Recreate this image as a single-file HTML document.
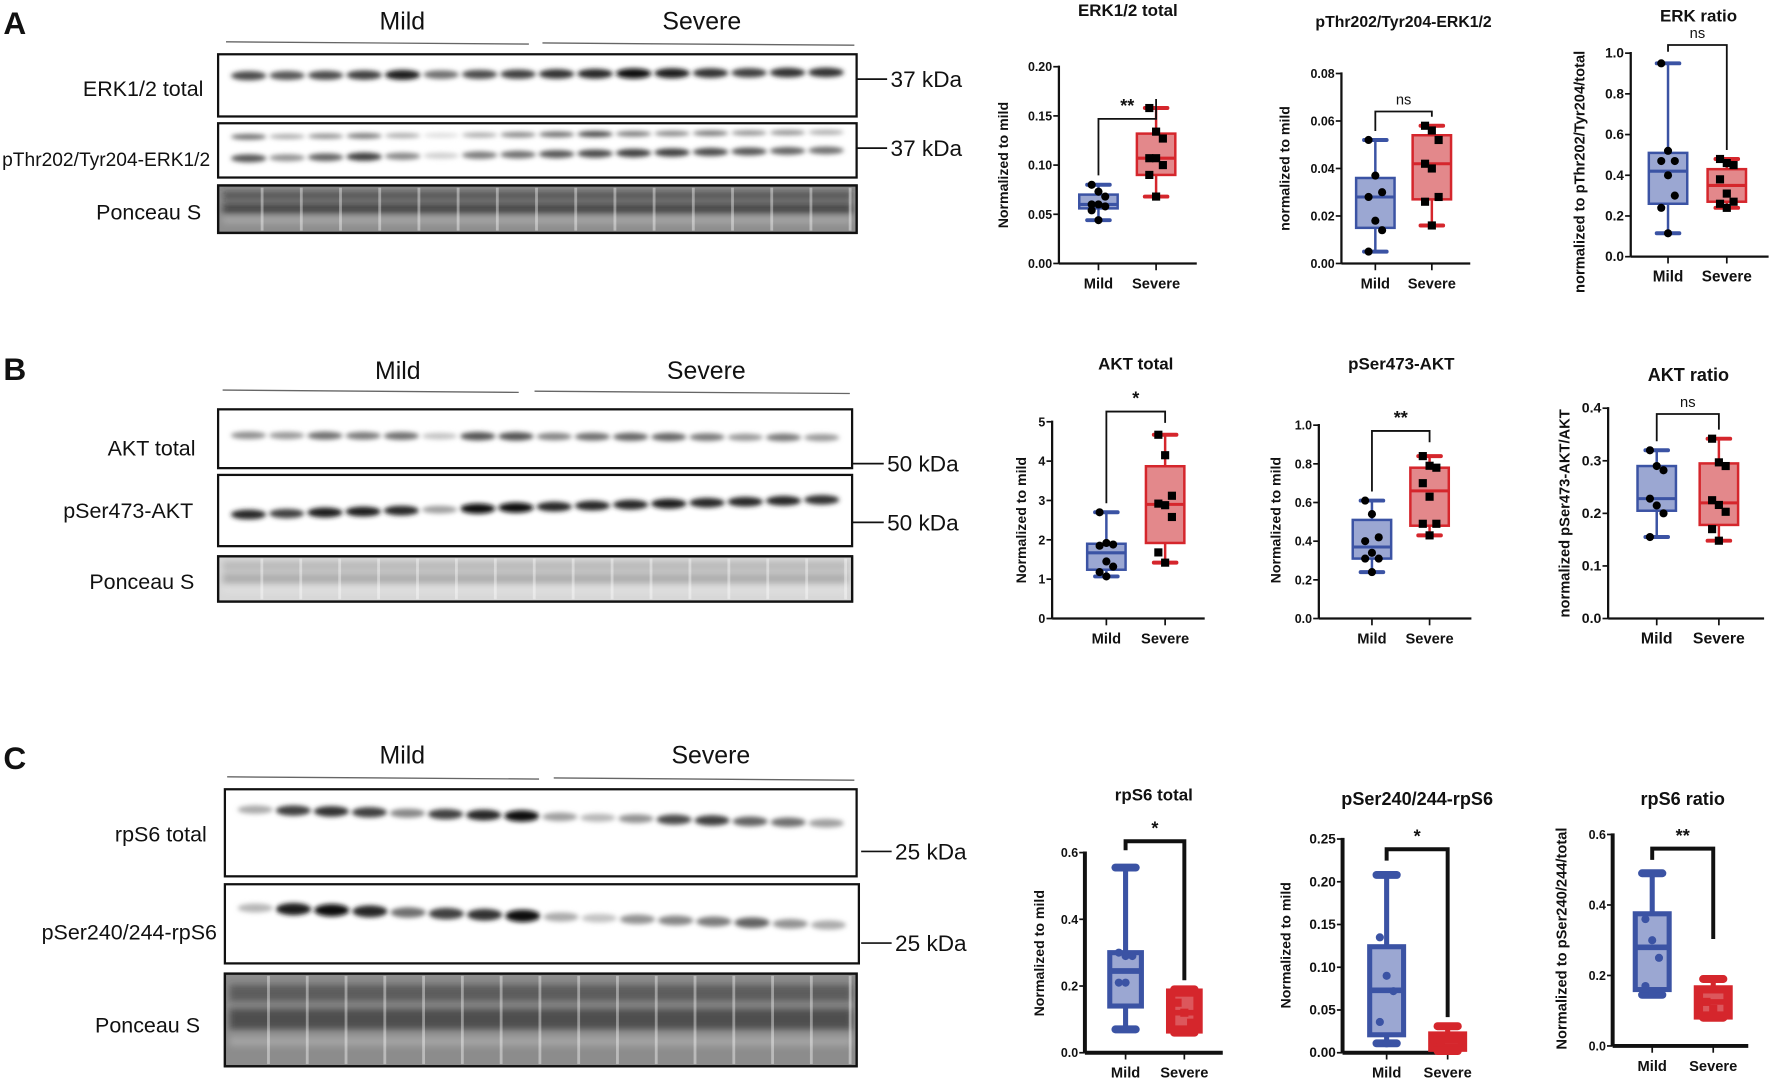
<!DOCTYPE html>
<html><head><meta charset="utf-8"><style>
html,body{margin:0;padding:0;background:#fff}
svg{display:block}
text{font-family:"Liberation Sans",Arial,sans-serif}
</style></head><body>
<svg id="fig" xmlns="http://www.w3.org/2000/svg" width="1772" height="1081" viewBox="0 0 1568 956" preserveAspectRatio="none">
<defs>
<filter id="blur2" x="-50%" y="-100%" width="200%" height="300%"><feGaussianBlur stdDeviation="2.2"/></filter>
<filter id="blur4" x="-10%" y="-100%" width="120%" height="300%"><feGaussianBlur stdDeviation="3"/></filter>
</defs>
<g id="blots"></g>
<g id="charts"></g>
</svg>
<script>
// ---------- Chart data ----------
const categories = ["Mild", "Severe"];
// Each stats array: [whiskerMin, q1, median, q3, whiskerMax]
const erkTotalMildStats = [0.044, 0.056, 0.060, 0.070, 0.080];
const erkTotalSevStats = [0.068, 0.090, 0.107, 0.132, 0.158];
const erkTotalMildPts = [0.080, 0.073, 0.068, 0.060, 0.060, 0.058, 0.054, 0.044];
const erkTotalSevPts = [0.158, 0.134, 0.127, 0.107, 0.107, 0.100, 0.090, 0.068];
const erkTotalTicks = [0, 0.05, 0.10, 0.15, 0.20];
const erkTotalTickLabels = ["0.00", "0.05", "0.10", "0.15", "0.20"];

const pErkMildStats = [0.005, 0.015, 0.028, 0.036, 0.052];
const pErkSevStats = [0.016, 0.027, 0.042, 0.054, 0.058];
const pErkMildPts = [0.052, 0.037, 0.030, 0.028, 0.018, 0.014, 0.005];
const pErkSevPts = [0.058, 0.056, 0.052, 0.042, 0.040, 0.028, 0.026, 0.016];
const pErkTicks = [0, 0.02, 0.04, 0.06, 0.08];
const pErkTickLabels = ["0.00", "0.02", "0.04", "0.06", "0.08"];

const erkRatioMildStats = [0.115, 0.26, 0.42, 0.51, 0.95];
const erkRatioSevStats = [0.24, 0.27, 0.35, 0.43, 0.48];
const erkRatioMildPts = [0.95, 0.52, 0.47, 0.47, 0.40, 0.30, 0.24, 0.115];
const erkRatioSevPts = [0.48, 0.46, 0.45, 0.38, 0.31, 0.27, 0.26, 0.24];
const erkRatioTicks = [0, 0.2, 0.4, 0.6, 0.8, 1.0];
const erkRatioTickLabels = ["0.0", "0.2", "0.4", "0.6", "0.8", "1.0"];

const aktTotalMildStats = [1.07, 1.24, 1.67, 1.90, 2.70];
const aktTotalSevStats = [1.42, 1.92, 2.90, 3.87, 4.67];
const aktTotalMildPts = [2.70, 1.92, 1.88, 1.85, 1.45, 1.32, 1.18, 1.07];
const aktTotalSevPts = [4.67, 4.15, 3.12, 2.92, 2.88, 2.58, 1.68, 1.42];
const aktTotalTicks = [0, 1, 2, 3, 4, 5];
const aktTotalTickLabels = ["0", "1", "2", "3", "4", "5"];

const pAktMildStats = [0.24, 0.31, 0.37, 0.51, 0.61];
const pAktSevStats = [0.43, 0.48, 0.66, 0.78, 0.84];
const pAktMildPts = [0.61, 0.54, 0.42, 0.40, 0.34, 0.31, 0.31, 0.24];
const pAktSevPts = [0.84, 0.79, 0.78, 0.70, 0.63, 0.49, 0.49, 0.43];
const pAktTicks = [0, 0.2, 0.4, 0.6, 0.8, 1.0];
const pAktTickLabels = ["0.0", "0.2", "0.4", "0.6", "0.8", "1.0"];

const aktRatioMildStats = [0.155, 0.205, 0.228, 0.29, 0.32];
const aktRatioSevStats = [0.148, 0.178, 0.22, 0.295, 0.342];
const aktRatioMildPts = [0.32, 0.29, 0.282, 0.228, 0.215, 0.20, 0.155];
const aktRatioSevPts = [0.342, 0.297, 0.29, 0.225, 0.216, 0.203, 0.17, 0.148];
const aktRatioTicks = [0, 0.1, 0.2, 0.3, 0.4];
const aktRatioTickLabels = ["0.0", "0.1", "0.2", "0.3", "0.4"];

const s6TotalMildStats = [0.07, 0.14, 0.245, 0.30, 0.555];
const s6TotalSevStats = [0.06, 0.065, 0.12, 0.185, 0.19];
const s6TotalMildPts = [0.30, 0.29, 0.29, 0.21, 0.21];
const s6TotalSevPts = [0.15, 0.12, 0.09];
const s6TotalTicks = [0, 0.2, 0.4, 0.6];
const s6TotalTickLabels = ["0.0", "0.2", "0.4", "0.6"];

const pS6MildStats = [0.011, 0.021, 0.073, 0.124, 0.208];
const pS6SevStats = [0.002, 0.004, 0.014, 0.022, 0.031];
const pS6MildPts = [0.135, 0.09, 0.072, 0.036, 0.011];
const pS6SevPts = [0.014];
const pS6Ticks = [0, 0.05, 0.10, 0.15, 0.20, 0.25];
const pS6TickLabels = ["0.00", "0.05", "0.10", "0.15", "0.20", "0.25"];

const s6RatioMildStats = [0.145, 0.16, 0.28, 0.375, 0.49];
const s6RatioSevStats = [0.08, 0.082, 0.125, 0.165, 0.19];
const s6RatioMildPts = [0.36, 0.30, 0.25, 0.17, 0.15];
const s6RatioSevPts = [0.125, 0.105];
const s6RatioTicks = [0, 0.2, 0.4, 0.6];
const s6RatioTickLabels = ["0.0", "0.2", "0.4", "0.6"];

// Blot lane intensities (16 lanes: 8 mild, 8 severe)
const erkTotalBand = [0.75,0.7,0.75,0.8,0.95,0.6,0.75,0.8, 0.85,0.9,1,0.95,0.85,0.8,0.85,0.85];
const pErkUpperBand = [0.6,0.35,0.45,0.55,0.35,0.15,0.35,0.5, 0.6,0.75,0.55,0.5,0.55,0.45,0.45,0.35];
const pErkLowerBand = [0.7,0.45,0.65,0.8,0.5,0.2,0.55,0.6, 0.7,0.75,0.8,0.8,0.75,0.7,0.65,0.6];
const aktTotalBand = [0.55,0.5,0.7,0.65,0.7,0.3,0.85,0.85, 0.6,0.7,0.75,0.75,0.65,0.5,0.65,0.5];
const pAktBand = [0.9,0.8,0.95,0.95,0.9,0.4,1,1, 0.9,0.9,0.9,0.95,0.9,0.9,0.9,0.85];
const s6TotalBand = [0.35,0.8,0.85,0.8,0.5,0.8,0.9,1, 0.4,0.3,0.45,0.75,0.8,0.65,0.6,0.4];
const pS6Band = [0.3,0.95,1,0.9,0.6,0.8,0.85,1, 0.35,0.25,0.45,0.5,0.55,0.65,0.45,0.35];

const NS = "http://www.w3.org/2000/svg";
function mk(parent, tag, attrs, txt){
  const e = document.createElementNS(NS, tag);
  for (const k in attrs) e.setAttribute(k, attrs[k]);
  if (txt !== undefined) e.textContent = txt;
  parent.appendChild(e);
  return e;
}

// ---------- Blots ----------
const blotG = document.getElementById('blots');
function label(x, y, t, size, anchor, name, weight){
  const e = mk(blotG, 'text', {x:x, y:y, 'font-size':size, 'text-anchor':anchor||'start', fill:'#111', 'font-weight':weight||'normal'}, t);
  
  
  return e;
}
function frame(x, y, w, h, name, bg){
  const r = mk(blotG, 'rect', {x:x, y:y, width:w, height:h, fill:bg||'#fff', stroke:'#111', 'stroke-width':2});
  
  
}
function bands(x, w, vals, y0, y1, h, dark, name){
  const n = vals.length, lw = (w - 20) / n;
  const g = mk(blotG, 'g', {filter:'url(#blur2)'});
  
  
  vals.forEach((v, i) => {
    const cx = x + 10 + lw * (i + 0.5);
    const cy = y0 + (y1 - y0) * i / (n - 1);
    const c = Math.round(255 - 240 * v * (dark || 1));
    mk(g, 'ellipse', {cx:cx, cy:cy, rx:lw*0.46, ry:h*(0.6+0.4*v)/2, fill:`rgb(${c},${c},${c})`});
  });
}
function ponceau(x, y, w, h, base, dark, light, name){
  frame(x, y, w, h, name, base);
  const g = mk(blotG, 'g', {});
  const bg = mk(g, 'g', {filter:'url(#blur4)'});
  mk(bg, 'rect', {x:x + 4, y:y + h * 0.12, width:w - 8, height:h * 0.18, fill:dark, opacity:0.55});
  mk(bg, 'rect', {x:x + 4, y:y + h * 0.38, width:w - 8, height:h * 0.22, fill:dark, opacity:0.7});
  mk(bg, 'rect', {x:x + 4, y:y + h * 0.68, width:w - 8, height:h * 0.1, fill:light, opacity:0.5});
  const n = 16, lw = (w - 10) / n;
  for (let i = 0; i < n; i++){
    const lx = x + 5 + lw * i;
    mk(g, 'rect', {x:lx + lw - 2, y:y + 2, width:2.5, height:h - 4, fill:'#fff', opacity:0.4});
  }
  mk(blotG, 'rect', {x:x, y:y, width:w, height:h, fill:'none', stroke:'#111', 'stroke-width':2});
}
function header(cx1, cx2, y, lx1, lx2, lx3, lx4, ly, name){
  label(cx1, y, 'Mild', 22, 'middle', name + '-mild-header');
  label(cx2, y, 'Severe', 22, 'middle', name + '-severe-header');
  mk(blotG, 'line', {x1:lx1, y1:ly - 1, x2:lx2, y2:ly + 1, stroke:'#666', 'stroke-width':1.2});
  mk(blotG, 'line', {x1:lx3, y1:ly, x2:lx4, y2:ly + 2, stroke:'#666', 'stroke-width':1.2});
}
function kda(x1, x2, y, t, name){
  mk(blotG, 'line', {x1:x1, y1:y, x2:x2, y2:y, stroke:'#111', 'stroke-width':1.5});
  label(x2 + 3, y + 7, t, 20, 'start', name);
}

// Panel A
label(3, 30, 'A', 28, 'start', 'panel-label-a', 'bold');
header(356, 621, 26, 200, 468, 480, 756, 38, 'panel-a');
frame(193, 48, 565, 55, 'erk-total-blot');
bands(193, 565, erkTotalBand, 67, 64, 9, 1, 'erk-total-bands');
frame(193, 109, 565, 48, 'perk-blot');
bands(193, 565, pErkUpperBand, 121, 117, 6, 1, 'perk-upper-bands');
bands(193, 565, pErkLowerBand, 140, 133, 8, 1, 'perk-lower-bands');
ponceau(193, 164, 565, 42, '#8e8e8e', '#2a2a2a', '#d0d0d0', 'ponceau-a-blot');
label(180, 85, 'ERK1/2 total', 19, 'end', 'erk-total-label');
label(186, 147, 'pThr202/Tyr204-ERK1/2', 17, 'end', 'perk-label');
label(178, 194, 'Ponceau S', 19, 'end', 'ponceau-a-label');
kda(758, 785, 70, '37 kDa', 'kda-37-a1');
kda(758, 785, 131, '37 kDa', 'kda-37-a2');

// Panel B
label(3, 336, 'B', 28, 'start', 'panel-label-b', 'bold');
header(352, 625, 335, 197, 459, 473, 752, 346, 'panel-b');
frame(193, 362, 561, 52, 'akt-total-blot');
bands(193, 561, aktTotalBand, 385, 387, 8, 0.85, 'akt-total-bands');
frame(193, 420, 561, 63, 'pakt-blot');
bands(193, 561, pAktBand, 455, 442, 9, 1, 'pakt-bands');
ponceau(193, 492, 561, 40, '#d8d8d8', '#999', '#eee', 'ponceau-b-blot');
label(173, 403, 'AKT total', 19, 'end', 'akt-total-label');
label(171, 458, 'pSer473-AKT', 19, 'end', 'pakt-label');
label(172, 521, 'Ponceau S', 19, 'end', 'ponceau-b-label');
kda(754, 782, 410, '50 kDa', 'kda-50-b1');
kda(754, 782, 462, '50 kDa', 'kda-50-b2');

// Panel C
label(3, 680, 'C', 28, 'start', 'panel-label-c', 'bold');
header(356, 629, 675, 201, 477, 490, 756, 688, 'panel-c');
frame(199, 698, 559, 77, 'rps6-total-blot');
bands(199, 559, s6TotalBand, 716, 728, 10, 1, 'rps6-total-bands');
frame(199, 782, 561, 70, 'prps6-blot');
bands(199, 561, pS6Band, 803, 818, 11, 1, 'prps6-bands');
ponceau(199, 861, 559, 82, '#8c8c8c', '#333', '#bbb', 'ponceau-c-blot');
label(183, 744, 'rpS6 total', 19, 'end', 'rps6-total-label');
label(192, 831, 'pSer240/244-rpS6', 19, 'end', 'prps6-label');
label(177, 913, 'Ponceau S', 19, 'end', 'ponceau-c-label');
kda(762, 789, 753, '25 kDa', 'kda-25-c1');
kda(762, 789, 834, '25 kDa', 'kda-25-c2');

// ---------- Box plots ----------
const chartG = document.getElementById('charts');
const BLUE = '#3b53a4', BLUEF = '#9ba7d2', RED = '#d5262c', REDF = '#e3888b';
function drawChart(c){
  const g = mk(chartG, 'g', {});
  
  
  const ymax = c.ticks[c.ticks.length - 1];
  const Y = v => c.y0 - (c.y0 - c.yTop) * v / ymax;
  const X = i => i === 0 ? c.xMild : c.xSev;
  const sw = c.thick ? 4.5 : 2.2;
  const t = mk(g, 'text', {x:c.titleX, y:c.titleY, 'font-size':c.titleSize || 15, 'font-weight':'bold', 'text-anchor':'middle', fill:'#111'}, c.title);
  
  
  mk(g, 'line', {x1:c.x0, y1:c.yTop - 1, x2:c.x0, y2:c.y0, stroke:'#111', 'stroke-width':c.thick ? 3.5 : 2});
  c.ticks.forEach((v, i) => {
    mk(g, 'line', {x1:c.x0 - 5, y1:Y(v), x2:c.x0, y2:Y(v), stroke:'#111', 'stroke-width':1.5});
    const tl = mk(g, 'text', {x:c.x0 - 6, y:Y(v) + 4, 'font-size':c.tickSize || 11, 'font-weight':'bold', 'text-anchor':'end', fill:'#111'}, c.tickLabels[i]);
    
    
  });
  mk(g, 'line', {x1:c.x0, y1:c.y0, x2:c.x0 + c.xLen, y2:c.y0, stroke:'#111', 'stroke-width':c.thick ? 3.5 : 2});
  categories.forEach((cat, i) => {
    mk(g, 'line', {x1:X(i), y1:c.y0, x2:X(i), y2:c.y0 + 6, stroke:'#111', 'stroke-width':1.5});
    const cl = mk(g, 'text', {x:X(i), y:c.y0 + 22, 'font-size':c.catSize || 13, 'font-weight':'bold', 'text-anchor':'middle', fill:'#111'}, cat);
    
    
  });
  const yl = mk(g, 'text', {x:0, y:0, 'font-size':c.ylSize || 12.5, 'font-weight':'bold', 'text-anchor':'middle', fill:'#111', transform:`translate(${c.ylX},${c.ylY}) rotate(-90)`}, c.yLabel);
  
  
  [[c.mildStats, BLUE, BLUEF, c.mildPts, 'circle'], [c.sevStats, RED, REDF, c.sevPts, 'square']].forEach((grp, i) => {
    const [s, col, fill, pts, shape] = grp;
    const cx = X(i), bw = c.boxW || 34, cap = c.capW || 20;
    const bg = mk(g, 'g', {});
    
    
    mk(bg, 'line', {x1:cx, y1:Y(s[0]), x2:cx, y2:Y(s[4]), stroke:col, 'stroke-width':sw});
    mk(bg, 'line', {x1:cx - cap / 2, y1:Y(s[0]), x2:cx + cap / 2, y2:Y(s[0]), stroke:col, 'stroke-width':c.thick ? 7 : 3.5, 'stroke-linecap':'round'});
    mk(bg, 'line', {x1:cx - cap / 2, y1:Y(s[4]), x2:cx + cap / 2, y2:Y(s[4]), stroke:col, 'stroke-width':c.thick ? 7 : 3.5, 'stroke-linecap':'round'});
    if (c.thick && i === 1) {
      mk(bg, 'rect', {x:cx - bw / 2, y:Y(s[3]), width:bw, height:Math.max(2, Y(s[1]) - Y(s[3])), fill:col, stroke:col, 'stroke-width':sw});
      mk(bg, 'rect', {x:cx - bw / 2 + 6, y:Y(s[3]) + 5, width:bw - 12, height:Math.max(0, Y(s[1]) - Y(s[3]) - 10), fill:REDF, opacity:0.5});
    } else {
      mk(bg, 'rect', {x:cx - bw / 2, y:Y(s[3]), width:bw, height:Y(s[1]) - Y(s[3]), fill:fill, stroke:col, 'stroke-width':sw});
    }
    mk(bg, 'line', {x1:cx - bw / 2, y1:Y(s[2]), x2:cx + bw / 2, y2:Y(s[2]), stroke:col, 'stroke-width':sw + 0.5});
    pts.forEach((v, k) => {
      const off = ((k % 3) - 1) * 6;
      const pc = c.thick ? col : '#000';
      let p;
      if (shape === 'circle') p = mk(bg, 'circle', {cx:cx + off, cy:Y(v), r:3.6, fill:pc});
      else p = mk(bg, 'rect', {x:cx + off - 3.6, y:Y(v) - 3.6, width:7.2, height:7.2, fill:pc});
      
      
    });
  });
  const by = Y(c.sigLevel);
  const legM = Math.min(by + c.legM, Y(c.mildStats[4]) - 8);
  const legS = Math.min(by + c.legS, Y(c.sevStats[4]) - 8);
  const bw2 = c.thick ? 3.5 : 1.6;
  mk(g, 'polyline', {points:`${c.xMild},${legM} ${c.xMild},${by} ${c.xSev},${by} ${c.xSev},${legS}`, fill:'none', stroke:'#111', 'stroke-width':bw2});
  const sg = mk(g, 'text', {x:(c.xMild + c.xSev) / 2, y:by - 6, 'font-size':c.sig === 'ns' ? 13 : 16, 'font-weight':c.sig === 'ns' ? 'normal' : 'bold', 'text-anchor':'middle', fill:'#111'}, c.sig);
  
  
}

drawChart({name:'chart-erk-total', title:'ERK1/2 total', titleX:998, titleY:14, x0:937, y0:233, yTop:59, xLen:122, xMild:972, xSev:1023,
  ticks:erkTotalTicks, tickLabels:erkTotalTickLabels, mildStats:erkTotalMildStats, sevStats:erkTotalSevStats, mildPts:erkTotalMildPts, sevPts:erkTotalSevPts,
  yLabel:'Normalized to mild', ylX:892, ylY:146, sig:'**', sigLevel:0.147, legM:50, legS:12});
drawChart({name:'chart-perk', title:'pThr202/Tyr204-ERK1/2', titleX:1242, titleY:24, x0:1187, y0:233, yTop:65, xLen:114, xMild:1217, xSev:1267,
  ticks:pErkTicks, tickLabels:pErkTickLabels, mildStats:pErkMildStats, sevStats:pErkSevStats, mildPts:pErkMildPts, sevPts:pErkSevPts,
  yLabel:'normalized to mild', ylX:1141, ylY:149, sig:'ns', sigLevel:0.064, legM:22, legS:12, titleSize:14});
drawChart({name:'chart-erk-ratio', title:'ERK ratio', titleX:1503, titleY:19, x0:1443, y0:227, yTop:47, xLen:122, xMild:1476, xSev:1528,
  ticks:erkRatioTicks, tickLabels:erkRatioTickLabels, mildStats:erkRatioMildStats, sevStats:erkRatioSevStats, mildPts:erkRatioMildPts, sevPts:erkRatioSevPts,
  yLabel:'normalized to pThr202/Tyr204/total', ylX:1402, ylY:152, sig:'ns', sigLevel:1.04, legM:6, legS:100, tickSize:12, catSize:13.5, ylSize:13});

drawChart({name:'chart-akt-total', title:'AKT total', titleX:1005, titleY:327, x0:931, y0:547, yTop:373, xLen:135, xMild:979, xSev:1031,
  ticks:aktTotalTicks, tickLabels:aktTotalTickLabels, mildStats:aktTotalMildStats, sevStats:aktTotalSevStats, mildPts:aktTotalMildPts, sevPts:aktTotalSevPts,
  yLabel:'Normalized to mild', ylX:908, ylY:460, sig:'*', sigLevel:5.26, legM:90, legS:10});
drawChart({name:'chart-pakt', title:'pSer473-AKT', titleX:1240, titleY:327, x0:1167, y0:547, yTop:376, xLen:135, xMild:1214, xSev:1265,
  ticks:pAktTicks, tickLabels:pAktTickLabels, mildStats:pAktMildStats, sevStats:pAktSevStats, mildPts:pAktMildPts, sevPts:pAktSevPts,
  yLabel:'Normalized to mild', ylX:1133, ylY:460, sig:'**', sigLevel:0.97, legM:60, legS:10});
drawChart({name:'chart-akt-ratio', title:'AKT ratio', titleX:1494, titleY:337, x0:1423, y0:547, yTop:361, xLen:138, xMild:1466, xSev:1521,
  ticks:aktRatioTicks, tickLabels:aktRatioTickLabels, mildStats:aktRatioMildStats, sevStats:aktRatioSevStats, mildPts:aktRatioMildPts, sevPts:aktRatioSevPts,
  yLabel:'normalized pSer473-AKT/AKT', ylX:1389, ylY:454, sig:'ns', sigLevel:0.389, legM:30, legS:20, tickSize:12.5, titleSize:16, catSize:14, ylSize:13});

drawChart({name:'chart-rps6-total', title:'rpS6 total', titleX:1021, titleY:708, x0:960, y0:931, yTop:754, xLen:122, xMild:996, xSev:1048, thick:true,
  ticks:s6TotalTicks, tickLabels:s6TotalTickLabels, mildStats:s6TotalMildStats, sevStats:s6TotalSevStats, mildPts:s6TotalMildPts, sevPts:s6TotalSevPts,
  yLabel:'Normalized to mild', ylX:924, ylY:843, sig:'*', sigLevel:0.634, legM:8, legS:130, boxW:28, capW:18});
drawChart({name:'chart-prps6', title:'pSer240/244-rpS6', titleX:1254, titleY:712, x0:1188, y0:931, yTop:742, xLen:102, xMild:1227, xSev:1281, thick:true,
  ticks:pS6Ticks, tickLabels:pS6TickLabels, mildStats:pS6MildStats, sevStats:pS6SevStats, mildPts:pS6MildPts, sevPts:pS6SevPts,
  yLabel:'Normalized to mild', ylX:1142, ylY:836, sig:'*', sigLevel:0.238, legM:10, legS:160, boxW:30, capW:18, titleSize:16, tickSize:12});
drawChart({name:'chart-rps6-ratio', title:'rpS6 ratio', titleX:1489, titleY:712, x0:1427, y0:925, yTop:738, xLen:120, xMild:1462, xSev:1516, thick:true,
  ticks:s6RatioTicks, tickLabels:s6RatioTickLabels, mildStats:s6RatioMildStats, sevStats:s6RatioSevStats, mildPts:s6RatioMildPts, sevPts:s6RatioSevPts,
  yLabel:'Normalized to pSer240/244/total', ylX:1386, ylY:830, sig:'**', sigLevel:0.56, legM:10, legS:80, boxW:30, capW:18, titleSize:16, ylSize:13});
</script>
</body></html>
